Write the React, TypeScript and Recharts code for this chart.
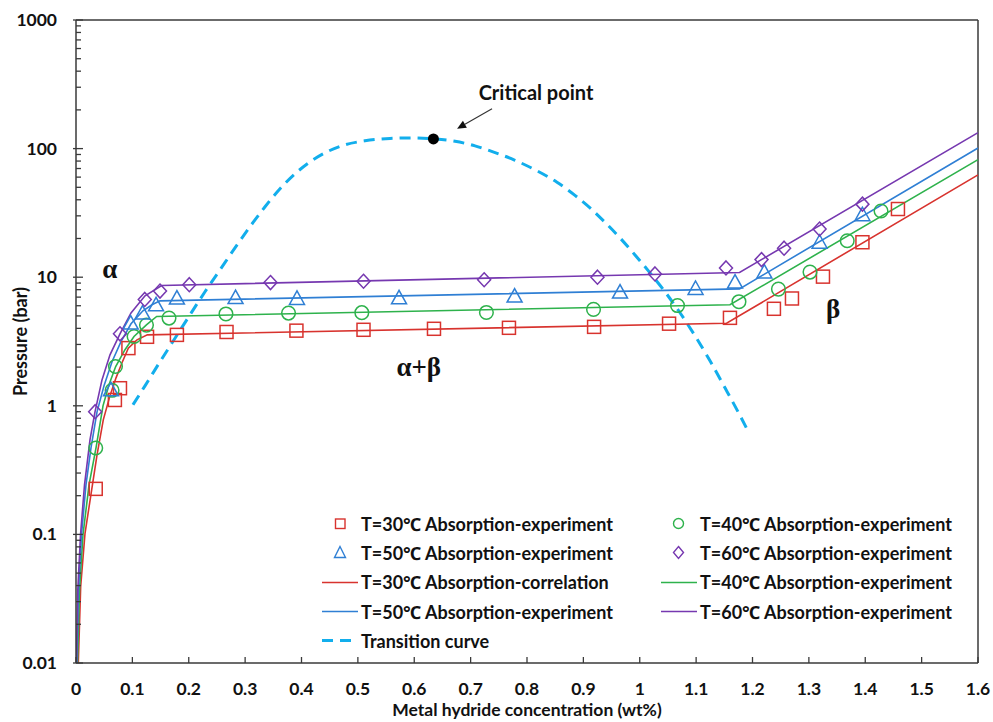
import React from 'react';
import {
  ComposedChart,
  Line,
  Scatter,
  XAxis,
  YAxis,
  ReferenceLine,
  ReferenceDot,
  Legend,
} from 'recharts';

// ---------- data ----------
const xTicks = [0, 0.1, 0.2, 0.3, 0.4, 0.5, 0.6, 0.7, 0.8, 0.9, 1, 1.1, 1.2, 1.3, 1.4, 1.5, 1.6];
const yMajorTicks = [0.01, 0.1, 1, 10, 100, 1000];
const yAllTicks = [
  0.01, 0.02, 0.03, 0.04, 0.05, 0.06, 0.07, 0.08, 0.09,
  0.1, 0.2, 0.3, 0.4, 0.5, 0.6, 0.7, 0.8, 0.9,
  1, 2, 3, 4, 5, 6, 7, 8, 9,
  10, 20, 30, 40, 50, 60, 70, 80, 90,
  100, 200, 300, 400, 500, 600, 700, 800, 900,
  1000,
];

// experiment points [wt%, bar]
const exp30 = [
  [0.035, 0.226], [0.069, 1.11], [0.078, 1.37], [0.093, 2.81], [0.126, 3.44], [0.179, 3.56],
  [0.267, 3.75], [0.391, 3.84], [0.51, 3.9], [0.635, 3.97], [0.768, 4.04], [0.919, 4.11],
  [1.052, 4.35], [1.16, 4.83], [1.238, 5.68], [1.27, 6.83], [1.325, 10.1], [1.395, 18.7], [1.458, 33.9],
];
const exp40 = [
  [0.035, 0.47], [0.064, 1.32], [0.07, 2.02], [0.103, 3.46], [0.125, 4.24], [0.165, 4.81],
  [0.266, 5.18], [0.377, 5.26], [0.507, 5.3], [0.728, 5.32], [0.918, 5.62], [1.067, 6.02],
  [1.176, 6.45], [1.246, 8.08], [1.302, 10.96], [1.368, 19.2], [1.428, 32.7],
];
const exp50 = [
  [0.062, 1.33], [0.097, 4.4], [0.118, 5.26], [0.142, 6.1], [0.179, 6.88], [0.283, 6.95],
  [0.392, 6.84], [0.573, 6.92], [0.778, 7.13], [0.965, 7.66], [1.099, 8.17], [1.169, 9.16],
  [1.221, 10.96], [1.319, 18.7], [1.395, 30.6],
];
const exp60 = [
  [0.034, 0.9], [0.078, 3.63], [0.122, 6.72], [0.149, 7.8], [0.201, 8.75], [0.345, 9.09],
  [0.51, 9.3], [0.724, 9.55], [0.925, 10.0], [1.027, 10.6], [1.153, 11.8], [1.216, 13.7],
  [1.256, 16.8], [1.319, 23.7], [1.395, 37.0],
];

// correlation curves [wt%, bar]
const corr30 = [
  [0.0041, 0.01], [0.0083, 0.0394], [0.016, 0.102], [0.0278, 0.222], [0.0373, 0.416], [0.0484, 0.778],
  [0.0603, 1.2], [0.071, 1.65], [0.0816, 2.16], [0.0928, 2.81], [0.1082, 3.26], [0.1265, 3.56],
  [1.154, 4.38], [1.6, 62.5],
];
const corr40 = [
  [0.0027, 0.01], [0.0062, 0.0371], [0.0124, 0.0993], [0.0231, 0.243], [0.0355, 0.471], [0.0479, 1.0],
  [0.0585, 1.46], [0.0704, 2.02], [0.0869, 2.73], [0.1029, 3.46], [0.1254, 4.27], [0.1431, 4.95],
  [1.16, 6.1], [1.6, 82],
];
const corr50 = [
  [0.0014, 0.01], [0.0044, 0.0371], [0.0098, 0.0993], [0.0177, 0.243], [0.0266, 0.471], [0.0373, 0.898],
  [0.0497, 1.43], [0.0639, 2.2], [0.0798, 3.15], [0.0976, 4.34], [0.1188, 5.48], [0.1348, 6.1],
  [0.149, 6.55], [1.177, 8.12], [1.6, 101],
];
const corr60 = [
  [0.0009, 0.01], [0.0032, 0.0371], [0.008, 0.0993], [0.0151, 0.243], [0.0248, 0.544], [0.0337, 0.898],
  [0.0461, 1.59], [0.0603, 2.49], [0.078, 3.63], [0.0976, 5.28], [0.1224, 7.16], [0.152, 8.62],
  [1.177, 10.88], [1.6, 133],
];

// transition (dome) curve [wt%, bar]
const transition = [
  [0.1011, 1.02], [0.1224, 1.43], [0.149, 2.2], [0.1756, 3.35], [0.2022, 5.1], [0.2288, 7.7],
  [0.2554, 11.4], [0.282, 16.9], [0.3086, 24.7], [0.3353, 35.3], [0.3619, 48.7], [0.3885, 63.7],
  [0.4151, 78.9], [0.4452, 94.4], [0.4771, 107], [0.5126, 115], [0.557, 120], [0.596, 121],
  [0.635, 119], [0.6723, 114], [0.7078, 105], [0.7397, 94.4], [0.7787, 81.1], [0.8177, 67.2],
  [0.8532, 54.7], [0.8851, 43.3], [0.9118, 34.6], [0.9384, 26.7], [0.965, 20.2], [0.9916, 14.9],
  [1.0182, 10.8], [1.0448, 7.7], [1.0714, 5.29], [1.0981, 3.5], [1.1246, 2.24], [1.1512, 1.38],
  [1.1725, 0.93], [1.1902, 0.66],
];

const criticalPoint = { x: 0.634, y: 119 };

const legendLabels = [
  'T=30℃ Absorption-experiment',
  'T=40℃ Absorption-experiment',
  'T=50℃ Absorption-experiment',
  'T=60℃ Absorption-experiment',
  'T=30℃ Absorption-correlation',
  'T=40℃ Absorption-experiment',
  'T=50℃ Absorption-experiment',
  'T=60℃ Absorption-experiment',
  'Transition curve',
];

const annotations = [
  { x: 0.06, y: 11.4, text: 'α' },
  { x: 0.608, y: 1.97, text: 'α+β' },
  { x: 1.343, y: 5.58, text: 'β' },
];
const criticalLabel = { x: 0.816, y: 272, text: 'Critical point' };
const arrowFrom = { x: 0.738, y: 204 };
const arrowTo = { x: 0.676, y: 142.6 };

// ---------- style ----------
const RED = '#D8332E';
const GREEN = '#2EB24C';
const BLUE = '#2F7FD4';
const PURPLE = '#7638B0';
const TRANS = '#12AEEC';
const AXIS = '#3a3a3a';
const FONT = "Lato, 'Open Sans', 'Noto Sans', sans-serif";
const SERIF = "'Liberation Serif', 'DejaVu Serif', serif";

const toPts = (arr: number[][]) => arr.map(([x, y]) => ({ x, y }));

const SquareShape = (p: any) => (
  <rect x={p.cx - 6.5} y={p.cy - 6.5} width={13} height={13} fill="none" stroke={RED} strokeWidth={1.5} />
);
const CircleShape = (p: any) => (
  <circle cx={p.cx} cy={p.cy} r={6.8} fill="none" stroke={GREEN} strokeWidth={1.5} />
);
const TriangleShape = (p: any) => (
  <polygon
    points={`${p.cx},${p.cy - 7.5} ${p.cx - 7.5},${p.cy + 6} ${p.cx + 7.5},${p.cy + 6}`}
    fill="none"
    stroke={BLUE}
    strokeWidth={1.5}
  />
);
const DiamondShape = (p: any) => (
  <polygon
    points={`${p.cx},${p.cy - 7} ${p.cx + 6.5},${p.cy} ${p.cx},${p.cy + 7} ${p.cx - 6.5},${p.cy}`}
    fill="none"
    stroke={PURPLE}
    strokeWidth={1.5}
  />
);

const YTick = (props: any) => {
  const { x, y, payload } = props;
  const v = payload.value;
  const major = yMajorTicks.includes(v);
  return (
    <g>
      <line x1={major ? x - 3 : x} x2={x + (major ? 7 : 5)} y1={y} y2={y} stroke={AXIS} strokeWidth={1.3} />
      {major && (
        <text x={x - 19} y={y} dy={6} textAnchor="end" fontFamily={FONT} fontWeight={700} fontSize={17.5} fill="#111">
          {String(v)}
        </text>
      )}
    </g>
  );
};

const XTick = (props: any) => {
  const { x, y, payload } = props;
  return (
    <g>
      <line x1={x} x2={x} y1={y} y2={y - 6} stroke={AXIS} strokeWidth={1.3} />
      <text x={x} y={y + 32} textAnchor="middle" fontFamily={FONT} fontWeight={700} fontSize={17.5} fill="#111">
        {String(payload.value)}
      </text>
    </g>
  );
};

const LegendIcon = ({ kind, color }: { kind: string; color: string }) => (
  <svg width={40} height={29} style={{ display: 'block', flex: 'none' }}>
    {kind === 'square' && <rect x={15.5} y={10} width={9.5} height={9.5} fill="none" stroke={color} strokeWidth={1.4} />}
    {kind === 'circle' && <circle cx={19.5} cy={14.5} r={5} fill="none" stroke={color} strokeWidth={1.4} />}
    {kind === 'triangle' && (
      <polygon points="20,8.5 14.5,19.5 25.5,19.5" fill="none" stroke={color} strokeWidth={1.4} />
    )}
    {kind === 'diamond' && (
      <polygon points="19.5,8.5 24.5,14.5 19.5,20.5 14.5,14.5" fill="none" stroke={color} strokeWidth={1.4} />
    )}
    {kind === 'line' && <line x1={2} x2={38} y1={14.5} y2={14.5} stroke={color} strokeWidth={1.6} />}
    {kind === 'dash' && (
      <line x1={2} x2={33} y1={14.5} y2={14.5} stroke={color} strokeWidth={3} strokeDasharray="11 7" />
    )}
  </svg>
);

const legendItems = [
  { kind: 'square', color: RED },
  { kind: 'circle', color: GREEN },
  { kind: 'triangle', color: BLUE },
  { kind: 'diamond', color: PURPLE },
  { kind: 'line', color: RED },
  { kind: 'line', color: GREEN },
  { kind: 'line', color: BLUE },
  { kind: 'line', color: PURPLE },
  { kind: 'dash', color: TRANS },
];

const LegendBox = () => (
  <div style={{ display: 'grid', gridTemplateColumns: '339px 320px', gridAutoRows: '29.3px' }}>
    {legendItems.map((it, i) => (
      <div key={i} style={{ display: 'flex', alignItems: 'center', height: 29.3 }}>
        <LegendIcon kind={it.kind} color={it.color} />
        <span
          style={{
            fontFamily: FONT,
            fontWeight: 700,
            fontSize: 18,
            color: '#111',
            whiteSpace: 'nowrap',
            marginLeft: 1,
          }}
        >
          {legendLabels[i]}
        </span>
      </div>
    ))}
  </div>
);

const ArrowShape = (p: any) => {
  const { x1, y1, x2, y2 } = p;
  const dx = x2 - x1;
  const dy = y2 - y1;
  const len = Math.sqrt(dx * dx + dy * dy) || 1;
  const ux = dx / len;
  const uy = dy / len;
  const hl = 9;
  const hw = 4;
  const bx = x2 - ux * hl;
  const by = y2 - uy * hl;
  return (
    <g>
      <line x1={x1} y1={y1} x2={bx} y2={by} stroke="#333" strokeWidth={1.1} />
      <polygon
        points={`${x2},${y2} ${bx - uy * hw},${by + ux * hw} ${bx + uy * hw},${by - ux * hw}`}
        fill="#111"
      />
    </g>
  );
};

const App = () => {
  return (
    <div style={{ position: 'absolute', left: 0, top: 0, width: 993, height: 722, background: '#fff' }}>
      <ComposedChart width={993} height={722} margin={{ top: 20, right: 15, bottom: 29, left: 0 }}>
        <XAxis
          type="number"
          dataKey="x"
          domain={[0, 1.6]}
          ticks={xTicks}
          interval={0}
          allowDataOverflow
          tickSize={0}
          tickMargin={0}
          tickLine={false}
          tick={<XTick />}
          height={30}
          axisLine={{ stroke: AXIS, strokeWidth: 1.5 }}
          label={{
            content: (lp: any) => {
              const vb = lp.viewBox || { x: 76, y: 663, width: 902 };
              return (
                <text
                  x={vb.x + vb.width / 2}
                  y={716}
                  textAnchor="middle"
                  fontFamily={FONT}
                  fontWeight={700}
                  fontSize={17.5}
                  fill="#111"
                >
                  Metal hydride concentration (wt%)
                </text>
              );
            },
          }}
        />
        <YAxis
          type="number"
          dataKey="y"
          scale="log"
          domain={[0.01, 1000]}
          ticks={yAllTicks}
          interval={0}
          allowDataOverflow
          width={76}
          tickSize={0}
          tickMargin={0}
          tickLine={false}
          tick={<YTick />}
          axisLine={{ stroke: AXIS, strokeWidth: 1.5 }}
          label={{
            content: (lp: any) => {
              const vb = lp.viewBox || { x: 0, y: 20, height: 643 };
              const cy = vb.y + vb.height / 2;
              return (
                <text
                  x={27}
                  y={cy}
                  transform={`rotate(-90, 27, ${cy})`}
                  textAnchor="middle"
                  fontFamily={FONT}
                  fontWeight={700}
                  fontSize={18}
                  fill="#111"
                >
                  Pressure (bar)
                </text>
              );
            },
          }}
        />
        <ReferenceLine y={1000} stroke={AXIS} strokeWidth={1.5} />
        <ReferenceLine x={1.6} stroke={AXIS} strokeWidth={1.5} />

        <Line data={toPts(transition)} dataKey="y" type="monotone" stroke={TRANS} strokeWidth={3}
          strokeDasharray="11 7" dot={false} isAnimationActive={false} />
        <Line data={toPts(corr30)} dataKey="y" type="linear" stroke={RED} strokeWidth={1.6} dot={false} isAnimationActive={false} />
        <Line data={toPts(corr40)} dataKey="y" type="linear" stroke={GREEN} strokeWidth={1.6} dot={false} isAnimationActive={false} />
        <Line data={toPts(corr50)} dataKey="y" type="linear" stroke={BLUE} strokeWidth={1.6} dot={false} isAnimationActive={false} />
        <Line data={toPts(corr60)} dataKey="y" type="linear" stroke={PURPLE} strokeWidth={1.6} dot={false} isAnimationActive={false} />

        <Scatter data={toPts(exp30)} dataKey="y" shape={SquareShape} isAnimationActive={false} />
        <Scatter data={toPts(exp40)} dataKey="y" shape={CircleShape} isAnimationActive={false} />
        <Scatter data={toPts(exp50)} dataKey="y" shape={TriangleShape} isAnimationActive={false} />
        <Scatter data={toPts(exp60)} dataKey="y" shape={DiamondShape} isAnimationActive={false} />

        <ReferenceDot x={criticalPoint.x} y={criticalPoint.y} r={5.5} fill="#000" stroke="none" />
        <ReferenceLine
          segment={[arrowFrom, arrowTo]}
          shape={(p: any) => <ArrowShape {...p} />}
        />
        <ReferenceDot
          x={criticalLabel.x}
          y={criticalLabel.y}
          shape={(p: any) => (
            <text x={p.cx} y={p.cy} dy={7} textAnchor="middle" fontFamily={FONT} fontWeight={700} fontSize={20} fill="#111">
              {criticalLabel.text}
            </text>
          )}
        />
        {annotations.map((a, i) => (
          <ReferenceDot
            key={i}
            x={a.x}
            y={a.y}
            shape={(p: any) => (
              <text x={p.cx} y={p.cy} dy={8} textAnchor="middle" fontFamily={SERIF} fontWeight={700} fontSize={27} fill="#111">
                {a.text}
              </text>
            )}
          />
        ))}

        <Legend
          layout="vertical"
          align="center"
          verticalAlign="middle"
          content={() => <LegendBox />}
          wrapperStyle={{ left: 320, top: 509, width: 660, height: 150 }}
        />
      </ComposedChart>
    </div>
  );
};

export default App;
